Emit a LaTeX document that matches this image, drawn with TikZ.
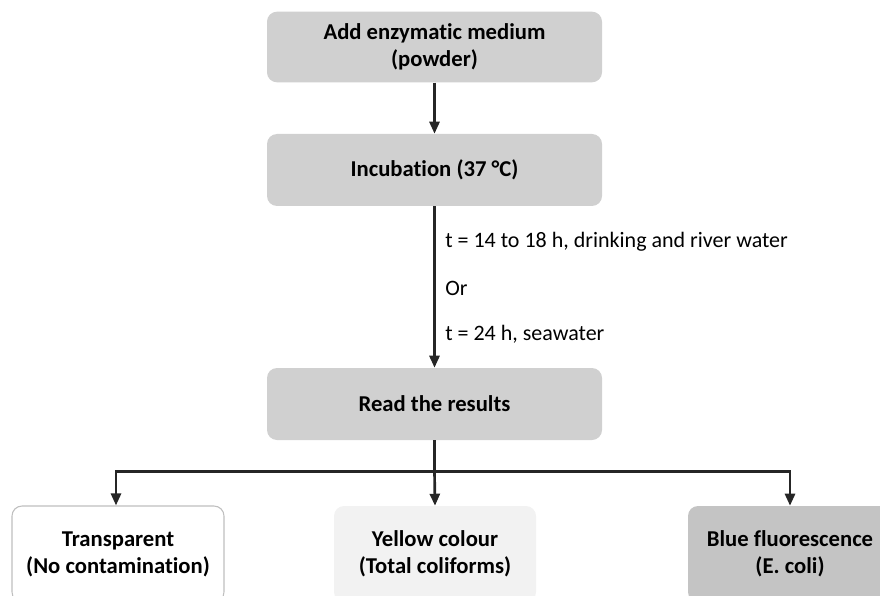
\documentclass[tikz,border=0pt]{standalone}
\usepackage{fontspec}
\setmainfont[RawFeature={-liga}]{Carlito}
\usetikzlibrary{arrows.meta}
\definecolor{boxgray}{HTML}{D0D0D0}
\definecolor{lightbox}{HTML}{F2F2F2}
\definecolor{darkbox}{HTML}{C4C4C4}
\definecolor{edgegray}{HTML}{BFBFBF}
\definecolor{linecol}{HTML}{262626}
\tikzset{
  x=0.75pt, y=-0.75pt,
  stepbox/.style={rounded corners=7.5pt, fill=boxgray, draw=none, align=center,
    font=\fontsize{17pt}{20.25pt}\selectfont\bfseries, minimum width=251.25pt, minimum height=53pt, inner sep=0pt},
  resbox/.style={rounded corners=7.5pt, align=center, minimum height=72pt, inner sep=0pt,
    font=\fontsize{17pt}{20.25pt}\selectfont\bfseries},
  conn/.style={draw=linecol, line width=2pt, -{Triangle[length=9pt,width=7.5pt]}},
  plainline/.style={draw=linecol, line width=2pt},
  lbl/.style={anchor=west, font=\fontsize{16.5pt}{18pt}\selectfont, inner sep=0pt}
}
\begin{document}
\begin{tikzpicture}
\useasboundingbox (0,0) rectangle (880,595);
\clip (0,0) rectangle (880,595);
\node[stepbox] (b1) at (434.5,47) {Add enzymatic medium\\(powder)};
\node[stepbox, minimum height=54pt] (b2) at (434.5,170) {Incubation (37 °C)};
\node[stepbox, minimum height=54pt] (b3) at (434.5,404) {Read the results};
\node[resbox, draw=edgegray, line width=0.8pt, fill=white, minimum width=159pt] (r1) at (118,554) {Transparent\\(No contamination)};
\node[resbox, fill=lightbox, minimum width=151.5pt] (r2) at (435,554) {Yellow colour\\(Total coliforms)};
\node[resbox, fill=darkbox, minimum width=153pt] (r3) at (790,554) {Blue fluorescence\\(E. coli)};
\draw[conn] (b1.south) -- (b2.north);
\draw[conn] (b2.south) -- (b3.north);
\node[lbl] (l1) at (445,242) {t = 14 to 18 h, drinking and river water};
\node[lbl] (l2) at (445,288) {Or};
\node[lbl] (l3) at (445,334) {t = 24 h, seawater};
\draw[plainline] (b3.south) -- ++(0,31) coordinate (br);
\draw[conn] (br) -| ([xshift=-1.5pt]r1.north);
\draw[conn] (br) -| (r3.north);
\draw[conn] (br) -- (r2.north);
\end{tikzpicture}
\end{document}
